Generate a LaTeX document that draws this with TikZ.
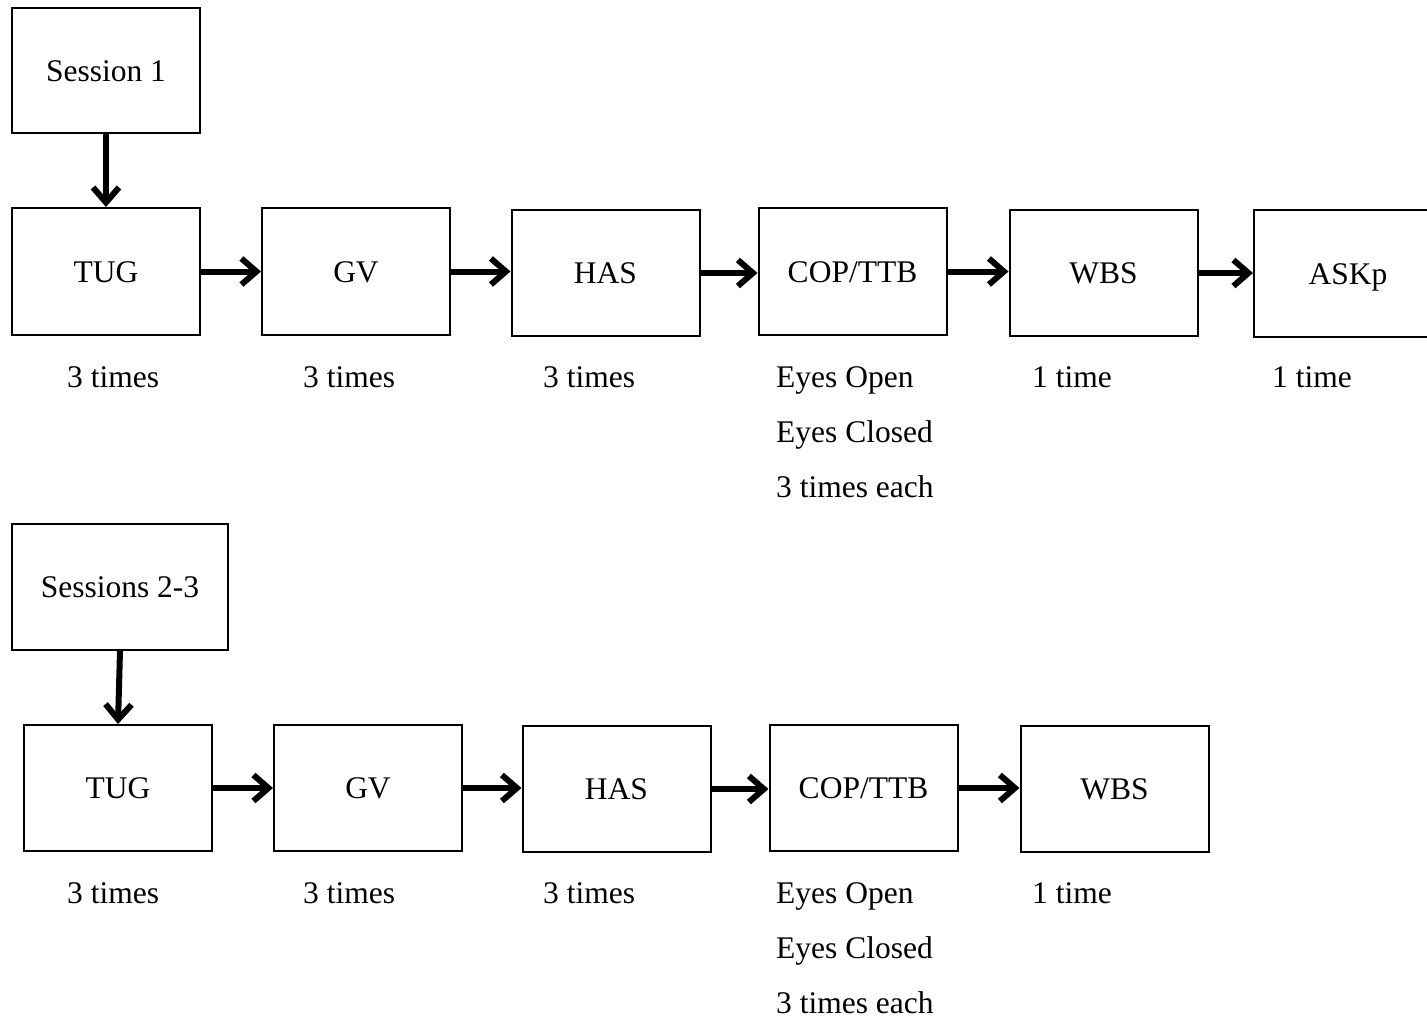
\documentclass[tikz,border=0pt]{standalone}
\usepackage{fontspec}
\setmainfont{Liberation Serif}
\usetikzlibrary{arrows.meta}
\tikzset{
  x=1pt, y=-1pt,
  box/.style={draw, line width=2pt, minimum width=188pt, minimum height=126pt,
    inner sep=0pt, text height=21pt, text depth=0pt,
    font=\fontsize{31.5}{38}\selectfont},
  lbl/.style={anchor=base west, inner sep=0pt, font=\fontsize{31.5}{38}\selectfont},
  flow/.style={line width=6pt, -{Straight Barb[length=15pt,width=26pt]}}
}
\begin{document}
\begin{tikzpicture}
\useasboundingbox (0,0) rectangle (1427,1020);
\clip (0,0) rectangle (1427,1020);
% Session 1
\node[box, minimum height=125pt] (s1) at (106,70.5) {Session 1};
\node[box, minimum height=127pt] (t1) at (106,271.5) {TUG};
\node[box, minimum height=127pt] (g1) at (356,271.5) {GV};
\node[box] (h1) at (605.5,273) {HAS};
\node[box, minimum height=127pt] (c1) at (852.5,271.5) {COP/TTB};
\node[box] (w1) at (1103.5,273) {WBS};
\node[box, minimum height=127pt] (a1) at (1348,273.5) {ASKp};
\draw[flow] (s1.south) -- (t1.north);
\draw[flow] (t1.east) -- (t1.east -| g1.west);
\draw[flow] (g1.east) -- (g1.east -| h1.west);
\draw[flow] (h1.east) -- (h1.east -| c1.west);
\draw[flow] (c1.east) -- (c1.east -| w1.west);
\draw[flow] (w1.east) -- (w1.east -| a1.west);
\node[lbl] (l1) at (67,387) {3 times};
\node[lbl] (l2) at (303,387) {3 times};
\node[lbl] (l3) at (543,387) {3 times};
\node[lbl] (l4) at (776,387) {Eyes Open};
\node[lbl] (l5) at (776,442) {Eyes Closed};
\node[lbl] (l6) at (776,497) {3 times each};
\node[lbl] (l7) at (1032,387) {1 time};
\node[lbl] (l8) at (1272,387) {1 time};
% Sessions 2-3
\node[box, minimum width=216pt] (s2) at (120,587) {Sessions 2-3};
\node[box] (t2) at (118,788) {TUG};
\node[box] (g2) at (368,788) {GV};
\node[box] (h2) at (616.5,789) {HAS};
\node[box] (c2) at (863.5,788) {COP/TTB};
\node[box] (w2) at (1114.5,789) {WBS};
\draw[flow] (s2.south) -- (t2.north);
\draw[flow] (t2.east) -- (t2.east -| g2.west);
\draw[flow] (g2.east) -- (g2.east -| h2.west);
\draw[flow] (h2.east) -- (h2.east -| c2.west);
\draw[flow] (c2.east) -- (c2.east -| w2.west);
\node[lbl] (m1) at (67,903) {3 times};
\node[lbl] (m2) at (303,903) {3 times};
\node[lbl] (m3) at (543,903) {3 times};
\node[lbl] (m4) at (776,903) {Eyes Open};
\node[lbl] (m5) at (776,958) {Eyes Closed};
\node[lbl] (m6) at (776,1013) {3 times each};
\node[lbl] (m7) at (1032,903) {1 time};
\end{tikzpicture}
\end{document}
